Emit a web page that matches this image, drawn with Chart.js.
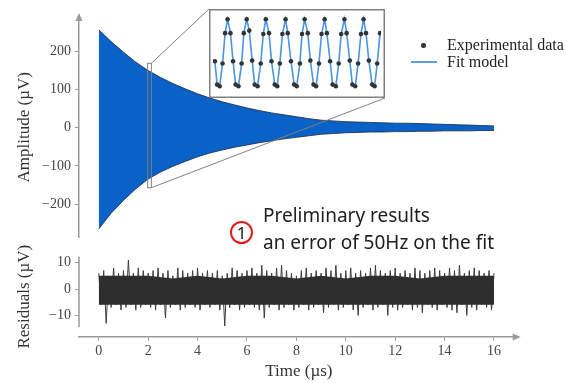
<!DOCTYPE html>
<html>
<head>
<meta charset="utf-8">
<script src="https://cdn.jsdelivr.net/npm/chart.js@4.4.1/dist/chart.umd.min.js"></script>
<style>
  html, body { margin: 0; padding: 0; background: #fff; }
  #wrap { position: relative; width: 566px; height: 383px; overflow: hidden; background: #fff; }
  canvas { position: absolute; }
  .leg { position: absolute; font-family: "Liberation Serif", serif; font-size: 16px; line-height: 18px; color: #222; white-space: nowrap; }
  .note { position: absolute; left: 263px; top: 202px; font-family: "Noto Sans", sans-serif; font-size: 19px; line-height: 27px; color: #1e1e1e; white-space: nowrap; }
  .num { position: absolute; left: 230px; top: 221px; width: 19px; height: 19px; border: 2px solid #e41b1b; border-radius: 50%;
         font-family: "Noto Sans", sans-serif; font-size: 17px; line-height: 19px; text-align: center; color: #111; }
</style>
</head>
<body>
<div id="wrap">
  <canvas id="topChart" width="566" height="250" style="left:0;top:0"></canvas>
  <canvas id="resChart" width="566" height="139" style="left:0;top:244px"></canvas>
  <canvas id="insetChart" width="176" height="89" style="left:209px;top:9px;background:#fff"></canvas>

  <div style="position:absolute;left:421px;top:43px;width:4.5px;height:4.5px;border-radius:50%;background:#333"></div>
  <div class="leg" style="left:447px;top:36px">Experimental data</div>
  <div style="position:absolute;left:411px;top:61px;width:26px;height:1.5px;background:#5a9fe0"></div>
  <div class="leg" style="left:447px;top:53px">Fit model</div>

  <div class="num">1</div>
  <div class="note">Preliminary results<br>an error of 50Hz on the fit</div>
</div>

<script>
// --- data ---
// envelope of the damped signal, one value every 0.5 µs from 0 to 16 µs
const envUp = [257, 226, 198, 172, 150, 132, 116, 102, 89, 78, 68, 60, 52, 45, 39, 34, 29,
               24, 20, 18, 16, 15, 14, 13, 12, 12, 11, 10, 9, 8, 7, 6, 5];
const envLo = [-265, -224, -190, -160, -134, -116, -101, -88, -76, -66, -58, -51, -45, -39, -34, -29, -25,
               -21, -17, -15, -13, -12, -11, -11, -10, -10, -9, -9, -8, -8, -8, -7, -7];

// residual peaks: highs every 0.2 µs (from 0), lows in between (from 0.1)
const resHi = [6, 7, 5, 8, 6, 7, 11, 6, 8, 7,
               6, 7, 8, 6, 7, 5, 8, 7, 6, 7,
               8, 6, 7, 6, 7, 5, 6, 8, 7, 6,
               7, 8, 6, 9, 7, 6, 8, 9, 7, 6,
               5, 7, 8, 6, 7, 6, 8, 7, 9, 6,
               7, 8, 6, 7, 6, 8, 9, 7, 6, 7,
               8, 6, 7, 6, 8, 7, 6, 7, 8, 7,
               6, 8, 7, 9, 6, 7, 8, 7, 6, 7,
               6];
const resLo = [-6, -13, -7, -6, -8, -7, -6, -8, -7, -6,
               -7, -8, -6, -11, -7, -6, -8, -7, -6, -7,
               -8, -6, -7, -6, -8, -14, -7, -6, -8, -7,
               -6, -7, -8, -11, -7, -6, -8, -7, -6, -8,
               -7, -6, -8, -7, -6, -9, -7, -6, -8, -7,
               -6, -8, -10, -7, -6, -8, -7, -6, -10, -7,
               -8, -7, -6, -8, -7, -9, -6, -7, -8, -6,
               -7, -8, -9, -6, -10, -7, -8, -6, -7, -8];
// dense core of the residual band, one value per µs
const resCoreHi = [5, 5, 5, 4, 5, 4, 5, 5, 4, 5, 4, 5, 5, 4, 5, 5, 5];
const resCoreLo = [-6, -6, -6, -6, -6, -6, -6, -6, -6, -6, -6, -6, -6, -6, -6, -6, -6];

// inset: sample positions across the zoom window and their amplitude (µV)
const insetPos = [11, 13.3, 16, 19, 21.7, 24.3, 27.3, 30, 32.7, 35.7, 39, 41.3, 44.3, 47, 50, 52.7,
                  55.7, 59, 61.7, 64.3, 67.7, 70.3, 73.7, 76.3, 79, 81.7, 85, 87.3, 90.7, 94, 96.7,
                  100, 102.3, 105, 108.3, 111, 114.3, 117, 120, 122.7, 126, 128.3, 131.7, 134.3,
                  137.7, 140.7, 143.3, 146.7, 149, 152.3, 155, 158, 161, 164, 166.7, 169.3, 172.3,
                  175.7, 178.3, 181, 184];
const insetAmp = [-36, -138, -145, -46, 87, 148, 87, -36, -138, -145, -46, 87, 148, 98, -33, -138,
                  -145, -46, 83, 148, 87, -36, -138, -145, -46, 83, 148, 87, -36, -138, -145,
                  -46, 83, 148, 87, -33, -138, -145, -46, 83, 148, 87, -36, -138,
                  -145, -46, 83, 148, 87, -33, -138, -145, -46, 83, 148, 87, -33,
                  -138, -145, -46, 87];

const timeTicks = [0, 2, 4, 6, 8, 10, 12, 14, 16];
const ampTicks = [-200, -100, 0, 100, 200];
const resTicks = [-10, 0, 10];

// zoom window shown in the inset (µs / µV)
const zoomWin = { t0: 1.98, t1: 2.13, lo: -157, hi: 169 };

const axisGrey = '#9a9a9a';
const tickFont = { family: 'Liberation Serif', size: 14 };
const titleFont = { family: 'Liberation Serif', size: 17 };
const minus = v => String(v).replace('-', '\u2212');

const envT = envUp.map((_, i) => i * 0.5);
const resPts = [];
resHi.forEach((v, i) => {
    resPts.push({ x: i * 0.2, y: v });
    if (i < resLo.length) resPts.push({ x: i * 0.2 + 0.1, y: resLo[i] });
});

// --- top panel ---
const topDeco = {
    id: 'topDeco',
    afterDatasetsDraw(chart) {
        const { ctx, chartArea: a, scales: { x, y } } = chart;
        ctx.save();
        // arrow on the y spine
        ctx.fillStyle = axisGrey;
        ctx.beginPath();
        ctx.moveTo(a.left, a.top - 4);
        ctx.lineTo(a.left - 3.5, a.top + 4);
        ctx.lineTo(a.left + 3.5, a.top + 4);
        ctx.closePath();
        ctx.fill();
        // zoom window + connectors to the inset
        const x0 = x.getPixelForValue(zoomWin.t0), x1 = x.getPixelForValue(zoomWin.t1);
        const yT = y.getPixelForValue(zoomWin.hi), yB = y.getPixelForValue(zoomWin.lo);
        const inset = document.getElementById('insetChart');
        const il = inset.offsetLeft, it = inset.offsetTop;
        ctx.strokeStyle = '#808080';
        ctx.lineWidth = 1;
        ctx.strokeRect(x0, yT, x1 - x0, yB - yT);
        ctx.beginPath();
        ctx.moveTo(x1, yT); ctx.lineTo(il, it);
        ctx.moveTo(x1, yB); ctx.lineTo(il + inset.width, it + inset.height);
        ctx.stroke();
        ctx.restore();
    }
};

new Chart(document.getElementById('topChart'), {
    type: 'line',
    data: {
        datasets: [
            { data: envT.map((t, i) => ({ x: t, y: envUp[i] })), borderColor: 'rgba(35,45,70,0.85)', borderWidth: 1, fill: false },
            { data: envT.map((t, i) => ({ x: t, y: envLo[i] })), borderColor: 'rgba(35,45,70,0.85)', borderWidth: 1,
              fill: '-1', backgroundColor: '#0862c8' }
        ]
    },
    options: {
        responsive: false, animation: false, devicePixelRatio: 1,
        layout: { padding: { left: 10, right: 47.3, top: 17, bottom: 9 } },
        elements: { point: { radius: 0 }, line: { tension: 0 } },
        plugins: { legend: { display: false }, tooltip: { enabled: false } },
        scales: {
            x: { type: 'linear', min: -0.8, max: 17, display: false },
            y: {
                min: -287.7, max: 290.3,
                afterFit: s => { s.width = 69; },
                afterBuildTicks: s => { s.ticks = ampTicks.map(v => ({ value: v })); },
                border: { display: true, color: axisGrey, width: 1.5 },
                grid: { drawOnChartArea: false, color: axisGrey, tickLength: 4 },
                ticks: { font: tickFont, color: '#444', padding: 4, callback: minus },
                title: { display: true, text: 'Amplitude (µV)', font: titleFont, color: '#333' }
            }
        }
    },
    plugins: [topDeco]
});

// --- residual panel ---
const resDeco = {
    id: 'resDeco',
    afterDraw(chart) {
        const { ctx, chartArea: a, scales: { y } } = chart;
        ctx.save();
        ctx.strokeStyle = axisGrey;
        ctx.lineWidth = 1.5;
        ctx.beginPath();
        ctx.moveTo(a.left, y.getPixelForValue(12.3));
        ctx.lineTo(a.left, y.getPixelForValue(-14.5));
        ctx.stroke();
        ctx.fillStyle = axisGrey;
        ctx.beginPath();
        ctx.moveTo(a.right + 2, a.bottom);
        ctx.lineTo(a.right - 6, a.bottom - 3.5);
        ctx.lineTo(a.right - 6, a.bottom + 3.5);
        ctx.closePath();
        ctx.fill();
        ctx.restore();
    }
};

const coreT = resCoreHi.map((_, i) => i);
new Chart(document.getElementById('resChart'), {
    type: 'line',
    data: {
        datasets: [
            { data: coreT.map((t, i) => ({ x: t, y: resCoreHi[i] })), borderWidth: 0, fill: false },
            { data: coreT.map((t, i) => ({ x: t, y: resCoreLo[i] })), borderWidth: 0,
              fill: '-1', backgroundColor: '#2e2e2e' },
            { data: resPts, borderColor: '#3c3c3c', borderWidth: 1, fill: false }
        ]
    },
    options: {
        responsive: false, animation: false, devicePixelRatio: 1,
        layout: { padding: { left: 10, right: 47.3, top: 9, bottom: 0 } },
        elements: { point: { radius: 0 }, line: { tension: 0 } },
        plugins: { legend: { display: false }, tooltip: { enabled: false } },
        scales: {
            x: {
                type: 'linear', min: -0.8, max: 17,
                afterFit: s => { s.height = 46; },
                afterBuildTicks: s => { s.ticks = timeTicks.map(v => ({ value: v })); },
                border: { display: true, color: axisGrey, width: 1.5 },
                grid: { drawOnChartArea: false, color: axisGrey, tickLength: 4 },
                ticks: { font: tickFont, color: '#444', padding: 2, maxRotation: 0 },
                title: { display: true, text: 'Time (µs)', font: titleFont, color: '#333', padding: { top: 2, bottom: 1 } }
            },
            y: {
                min: -18.18, max: 12.36,
                afterFit: s => { s.width = 69; },
                afterBuildTicks: s => { s.ticks = resTicks.map(v => ({ value: v })); },
                border: { display: false },
                grid: { drawOnChartArea: false, color: axisGrey, tickLength: 4 },
                ticks: { font: tickFont, color: '#444', padding: 4, callback: minus },
                title: { display: true, text: 'Residuals (µV)', font: titleFont, color: '#333' }
            }
        }
    },
    plugins: [resDeco]
});

// --- inset ---
const insetFrame = {
    id: 'insetFrame',
    afterDraw(chart) {
        const { ctx, width, height } = chart;
        ctx.save();
        ctx.strokeStyle = '#808080';
        ctx.lineWidth = 1.5;
        ctx.strokeRect(0.75, 0.75, width - 1.5, height - 1.5);
        ctx.restore();
    }
};

new Chart(document.getElementById('insetChart'), {
    type: 'line',
    data: {
        datasets: [
            { data: insetPos.map((p, i) => ({ x: p, y: insetAmp[i] })), borderColor: '#4a95e0', borderWidth: 1.6,
              pointRadius: 0, order: 2 },
            { data: insetPos.map((p, i) => ({ x: p, y: insetAmp[i] })), showLine: false,
              pointRadius: 2.3, pointBackgroundColor: '#333', pointBorderWidth: 0, order: 1 }
        ]
    },
    options: {
        responsive: false, animation: false, devicePixelRatio: 1,
        layout: { padding: 0 },
        elements: { line: { tension: 0 } },
        plugins: { legend: { display: false }, tooltip: { enabled: false } },
        scales: {
            x: { type: 'linear', min: 9, max: 185, display: false },
            y: { min: -179, max: 175, display: false }
        }
    },
    plugins: [insetFrame]
});
</script>
</body>
</html>
